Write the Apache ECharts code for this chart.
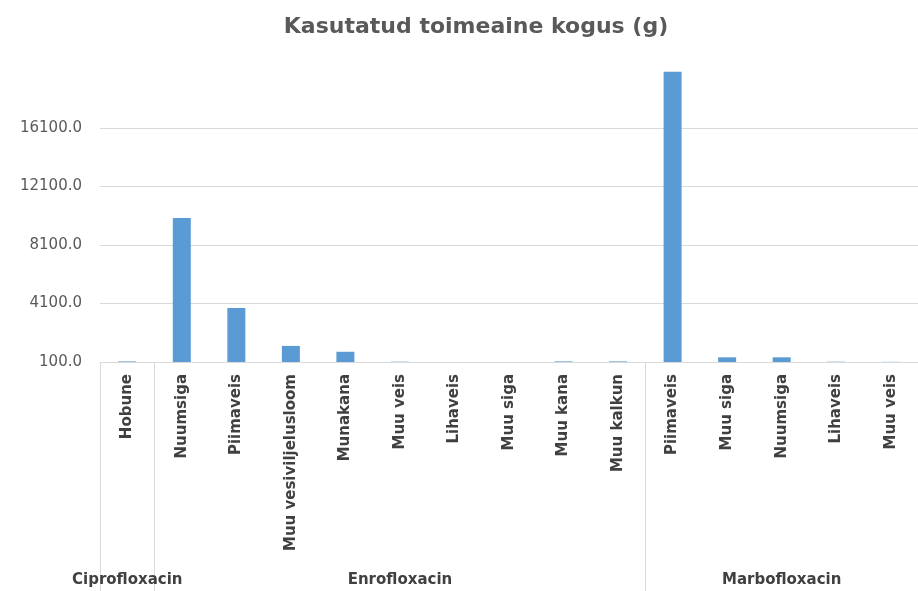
<!DOCTYPE html>
<html><head><meta charset="utf-8">
<script src="https://cdn.jsdelivr.net/npm/echarts@6/dist/echarts.min.js"></script>
<style>html,body{margin:0;padding:0;background:#fff}#c{width:918px;height:591px}</style>
</head><body><div id="c"></div>
<script>
const categories = ['Hobune','Nuumsiga','Piimaveis','Muu vesiviljelusloom','Munakana','Muu veis','Lihaveis','Muu siga','Muu kana','Muu kalkun','Piimaveis','Muu siga','Nuumsiga','Lihaveis','Muu veis'];
const groups = ['Ciprofloxacin','Enrofloxacin','Marbofloxacin'];
const groupSizes = [1, 9, 5];
const values = [140, 9950, 3800, 1200, 800, 120, 60, 60, 140, 140, 19950, 420, 420, 120, 110];
const yTicks = [100, 4100, 8100, 12100, 16100];

// group boundaries and label positions (middle category of each group)
const boundaries = [0];
groupSizes.forEach(s => boundaries.push(boundaries[boundaries.length - 1] + s));
const groupLabelAt = {};
groupSizes.forEach((s, i) => { groupLabelAt[boundaries[i] + Math.floor(s / 2)] = groups[i]; });

const font = '"DejaVu Sans", Verdana, sans-serif';
const chart = echarts.init(document.getElementById('c'), null, {renderer: 'canvas'});
chart.setOption({
  animation: false,
  title: {
    text: 'Kasutatud toimeaine kogus (g)', left: 471, top: 11, textAlign: 'center',
    textStyle: {fontFamily: font, fontSize: 22, fontWeight: 'bold', color: '#595959'}
  },
  grid: {left: 100, right: -15, top: 71, bottom: 229, containLabel: false},
  xAxis: [{
    type: 'category', data: categories, position: 'bottom',
    axisLine: {show: true, lineStyle: {color: '#d9d9d9', width: 1}},
    axisTick: {show: false},
    axisLabel: {rotate: 90, interval: 0, margin: 12, fontFamily: font, fontSize: 15, fontWeight: 'bold', color: '#404040'}
  }, {
    type: 'category', data: categories, position: 'bottom',
    axisLine: {show: false},
    axisTick: {show: true, length: 229, inside: false, interval: (i) => boundaries.includes(i), lineStyle: {color: '#d9d9d9'}},
    axisLabel: {interval: 0, margin: 211, fontFamily: font, fontSize: 15, fontWeight: 'bold', color: '#404040',
      formatter: (v, i) => groupLabelAt[i] || ''}
  }],
  yAxis: {
    type: 'value', min: yTicks[0], max: 20000, interval: yTicks[1] - yTicks[0],
    axisLine: {show: false}, axisTick: {show: false},
    splitLine: {show: true, showMaxLine: false, showMinLine: false, lineStyle: {color: '#d9d9d9'}},
    axisLabel: {showMaxLabel: false, margin: 18, formatter: v => v.toFixed(1), fontFamily: font, fontSize: 15, color: '#595959'}
  },
  series: [{
    type: 'bar', data: values, barWidth: 18, xAxisIndex: 0,
    itemStyle: {color: '#5b9bd5'}
  }]
});
</script></body></html>
